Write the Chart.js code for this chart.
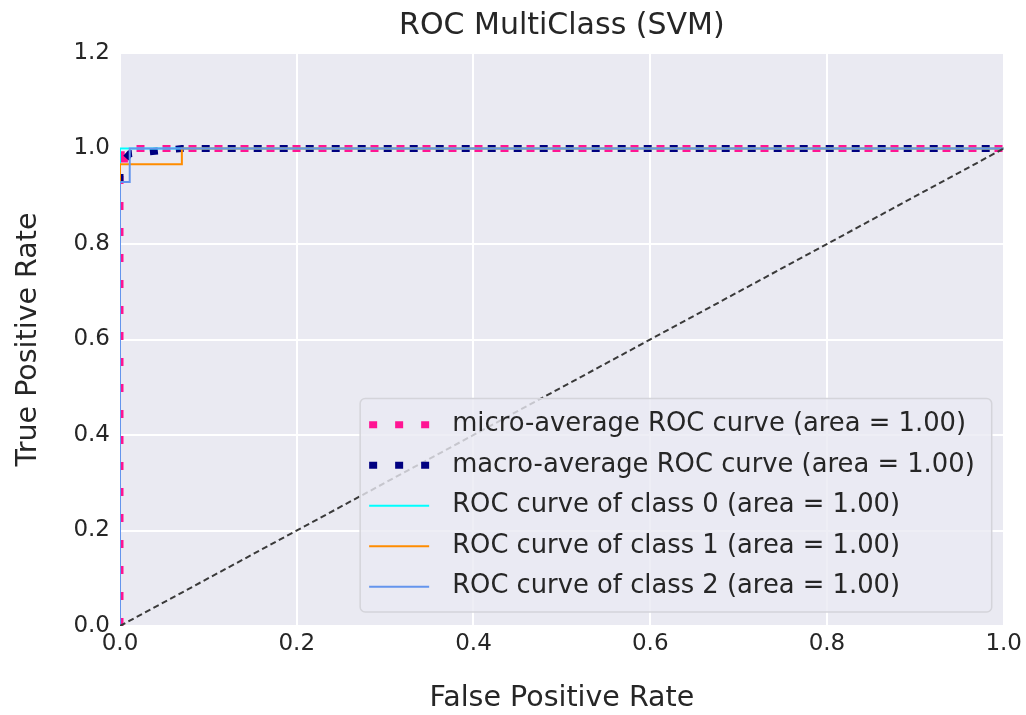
<!DOCTYPE html>
<html>
<head>
<meta charset="utf-8">
<title>ROC MultiClass (SVM)</title>
<script src="https://cdn.jsdelivr.net/npm/chart.js@4.4.1/dist/chart.umd.min.js"></script>
<style>
  html, body { margin: 0; padding: 0; background: #fff; }
  #rocChart { display: block; }
</style>
</head>
<body>
<canvas id="rocChart" width="1026" height="715"></canvas>
<script>
// axis ticks
const xTicks = [0.0, 0.2, 0.4, 0.6, 0.8, 1.0];
const yTicks = [0.0, 0.2, 0.4, 0.6, 0.8, 1.0, 1.2];

// curves (fpr / tpr)
const microFpr = [0, 0, 0.005, 0.005, 0.015, 0.015, 1];
const microTpr = [0, 0.955, 0.955, 0.987, 0.987, 1, 1];
const macroFpr = [0, 0, 0.011, 0.07, 1];
const macroTpr = [0.93, 0.965, 0.989, 1, 1];
const class0Fpr = [0, 0, 1];
const class0Tpr = [0, 1, 1];
const class1Fpr = [0, 0, 0.07, 0.07, 1];
const class1Tpr = [0, 0.967, 0.967, 1, 1];
const class2Fpr = [0, 0, 0.011, 0.011, 1];
const class2Tpr = [0, 0.93, 0.93, 1, 1];
const chanceFpr = [0, 1];
const chanceTpr = [0, 1];

const labels = [
    'micro-average ROC curve (area = 1.00)',
    'macro-average ROC curve (area = 1.00)',
    'ROC curve of class 0 (area = 1.00)',
    'ROC curve of class 1 (area = 1.00)',
    'ROC curve of class 2 (area = 1.00)',
];

const FONT = '"DejaVu Sans", "Liberation Sans", sans-serif';
const TEXT = '#262626';

const pts = (xs, ys) => xs.map((x, i) => ({ x: x, y: ys[i] }));

const plotBackground = {
    id: 'plotBackground',
    beforeDraw(chart) {
        const { ctx, chartArea: a } = chart;
        ctx.save();
        ctx.fillStyle = '#eaeaf2';
        ctx.fillRect(a.left, a.top, a.width, a.height);
        ctx.restore();
    }
};

// matplotlib-like legend sitting in the lower right of the plot
const insideLegend = {
    id: 'insideLegend',
    afterDraw(chart) {
        const { ctx, chartArea: a } = chart;
        const items = chart.data.datasets.filter(d => d.label);
        ctx.save();
        ctx.font = '25.8px ' + FONT;
        const textW = Math.max(...items.map(d => ctx.measureText(d.label).width));
        const rowH = 40.5, handleW = 60, pad = 9, gap = 23;
        const boxW = pad + handleW + gap + textW + 17;
        const boxH = items.length * rowH + 11;
        const right = a.right - 12, bottom = a.bottom - 14;
        const left = right - boxW, top = bottom - boxH;

        ctx.beginPath();
        ctx.roundRect(left, top, boxW, boxH, 5);
        ctx.fillStyle = 'rgba(234, 234, 242, 0.8)';
        ctx.fill();
        ctx.strokeStyle = '#d4d4da';
        ctx.lineWidth = 1.5;
        ctx.stroke();

        items.forEach((d, i) => {
            const y = top + 6 + rowH * (i + 0.5);
            ctx.beginPath();
            ctx.setLineDash(d.borderDash || []);
            ctx.lineWidth = d.borderWidth;
            ctx.strokeStyle = d.borderColor;
            ctx.moveTo(left + pad, y);
            ctx.lineTo(left + pad + handleW, y);
            ctx.stroke();
            ctx.setLineDash([]);
            ctx.fillStyle = TEXT;
            ctx.textBaseline = 'middle';
            ctx.fillText(d.label, left + pad + handleW + gap, y);
        });
        ctx.restore();
    }
};

const ctx = document.getElementById('rocChart').getContext('2d');
const rocChart = new Chart(ctx, {
    type: 'line',
    data: {
        datasets: [
            {
                label: labels[0],
                data: pts(microFpr, microTpr),
                borderColor: '#ff1493',
                borderWidth: 7,
                borderDash: [8, 18],
                order: 6,
            },
            {
                label: labels[1],
                data: pts(macroFpr, macroTpr),
                borderColor: '#000080',
                borderWidth: 7,
                borderDash: [8, 18],
                order: 5,
            },
            {
                label: labels[2],
                data: pts(class0Fpr, class0Tpr),
                borderColor: '#00ffff',
                borderWidth: 2,
                order: 4,
            },
            {
                label: labels[3],
                data: pts(class1Fpr, class1Tpr),
                borderColor: '#ff8c00',
                borderWidth: 2,
                order: 3,
            },
            {
                label: labels[4],
                data: pts(class2Fpr, class2Tpr),
                borderColor: '#6495ed',
                borderWidth: 2,
                order: 2,
            },
            {
                label: '',
                data: pts(chanceFpr, chanceTpr),
                borderColor: '#3a3a3a',
                borderWidth: 2,
                borderDash: [6, 3.5],
                order: 1,
            },
        ]
    },
    options: {
        responsive: false,
        animation: false,
        layout: {
            padding: { left: 0, right: 22, top: 0, bottom: 0 },
        },
        elements: {
            point: { radius: 0 },
            line: { tension: 0, fill: false, borderCapStyle: 'butt' },
        },
        datasets: {
            line: { clip: 0 },
        },
        scales: {
            x: {
                type: 'linear',
                min: 0,
                max: 1,
                afterBuildTicks: (axis) => { axis.ticks = xTicks.map(v => ({ value: v })); },
                afterFit: (axis) => { axis.height = 89; },
                border: { display: false },
                grid: {
                    color: '#ffffff',
                    lineWidth: 2,
                    drawTicks: false,
                },
                ticks: {
                    padding: 4,
                    maxRotation: 0,
                    color: TEXT,
                    font: { family: FONT, size: 23 },
                    callback: (v) => Number(v).toFixed(1),
                },
                title: {
                    display: true,
                    text: 'False Positive Rate',
                    color: TEXT,
                    font: { family: FONT, size: 28.5, lineHeight: 1.15 },
                    padding: { top: 0, bottom: 0 },
                },
            },
            y: {
                type: 'linear',
                min: 0,
                max: 1.2,
                afterBuildTicks: (axis) => { axis.ticks = yTicks.map(v => ({ value: v })); },
                afterFit: (axis) => { axis.width = 120; },
                border: { display: false },
                grid: {
                    color: '#ffffff',
                    lineWidth: 2,
                    drawTicks: false,
                },
                ticks: {
                    padding: 10,
                    color: TEXT,
                    font: { family: FONT, size: 23 },
                    callback: (v) => Number(v).toFixed(1),
                },
                title: {
                    display: true,
                    text: 'True Positive Rate',
                    color: TEXT,
                    font: { family: FONT, size: 28.5 },
                    padding: { top: 11, bottom: 0 },
                },
            },
        },
        plugins: {
            legend: { display: false },
            tooltip: { enabled: false },
            title: {
                display: true,
                fullSize: false,
                text: 'ROC MultiClass (SVM)',
                color: TEXT,
                font: { family: FONT, size: 30, weight: 'normal' },
                padding: { top: 8, bottom: 9 },
            },
        },
    },
    plugins: [plotBackground, insideLegend],
});
</script>
</body>
</html>
